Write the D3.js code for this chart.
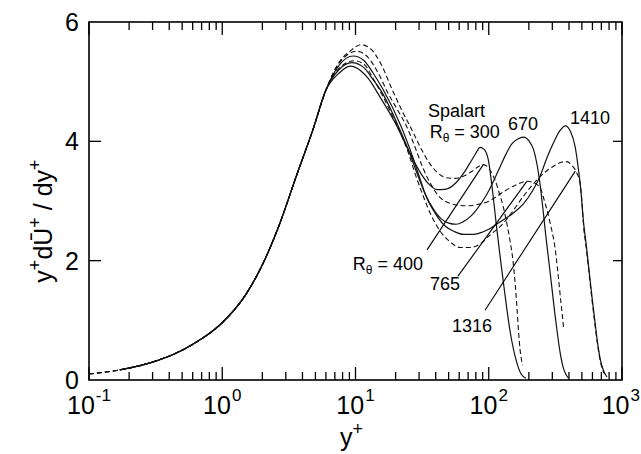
<!DOCTYPE html>
<html><head><meta charset="utf-8">
<script src="https://cdn.jsdelivr.net/npm/d3@7"></script>
<style>
html,body{margin:0;padding:0;background:#fff;}
svg{display:block;font-family:"Liberation Sans",Arial,Helvetica,sans-serif;}
</style></head><body>
<svg id="chart" width="641" height="454"></svg>
<script>
// Axis ticks
const xTickExponents = [-1, 0, 1, 2, 3];
const yTickValues = [0, 2, 4, 6];
const yInnerTicks = [2, 4];

// Near-wall region shared by every profile: [y+, y+ dU+/dy+]
const wallRegion = [[0.3,0.3],[0.5,0.5],[0.7,0.69],[1,0.96],[1.5,1.43],[2,1.93],[2.7,2.62],[3.6,3.42],[4.8,4.2],[6,4.86]];

// Spalart DNS profiles (solid)
const spalart300 = [[7.5,5.14],[9.1,5.26],[11,5.18],[12.5,5.05],[15.3,4.74],[20.5,4.25],[24,3.93],[27,3.7],[31,3.46],[36,3.27],[41,3.19],[48,3.2],[57,3.31],[65,3.47],[72,3.63],[80,3.8],[86,3.9],[92,3.87],[99,3.7],[107,3.15],[114,2.6],[122,2.05],[132,1.45],[145,0.8],[162,0.3],[175,0.1],[190,0.03]];
const spalart670 = [[7.5,5.2],[9.4,5.32],[11.5,5.24],[13.5,5.04],[16,4.8],[21,4.25],[25,3.85],[29,3.46],[33,3.14],[38,2.88],[44,2.7],[50,2.63],[57,2.61],[64,2.65],[72,2.73],[80,2.84],[90,3.0],[101,3.19],[112,3.4],[122,3.58],[135,3.79],[148,3.95],[165,4.04],[182,4.07],[200,4.01],[217,3.86],[230,3.62],[243,3.27],[255,2.87],[268,2.42],[283,1.97],[297,1.57],[313,1.12],[330,0.72],[345,0.43],[360,0.23],[378,0.1],[397,0.03]];
const spalart1410 = [[7.5,5.27],[9.6,5.43],[11.5,5.36],[13.5,5.15],[16,4.88],[22,4.25],[26,3.83],[30,3.42],[34,3.07],[40,2.78],[47,2.58],[55,2.49],[65,2.44],[77,2.44],[90,2.48],[101,2.53],[120,2.64],[153,2.8],[182,2.95],[217,3.2],[243,3.42],[273,3.72],[310,4.0],[340,4.17],[375,4.26],[410,4.17],[446,3.9],[468,3.58],[490,3.2],[514,2.65],[540,2.25],[565,1.85],[595,1.4],[625,1.0],[655,0.63],[685,0.36],[720,0.18],[770,0.05]];

// Computed profiles (dashed)
const profile400 = [[7.5,5.32],[9.2,5.52],[11,5.62],[13,5.55],[15.5,5.3],[19,4.85],[22.5,4.5],[26.4,4.2],[31,3.88],[36,3.63],[41,3.48],[48,3.39],[56,3.38],[65,3.42],[75,3.5],[84,3.58],[91,3.61],[97,3.58],[104,3.49],[112,3.34],[120,3.13],[128,2.92],[136,2.65],[144,2.35],[152,2.0],[158,1.6],[163,1.2],[167,0.84],[172,0.5],[176,0.34],[179,0.25]];
const profile765 = [[7.5,5.3],[10.2,5.51],[12.5,5.4],[15,5.12],[17.5,4.81],[21,4.5],[24.2,4.25],[28,3.9],[32,3.56],[37,3.27],[43,3.06],[50,2.97],[58,2.93],[70,2.92],[81,2.94],[101,3.0],[128,3.15],[160,3.27],[193,3.33],[220,3.3],[243,3.22],[265,2.96],[289,2.63],[315,2.2],[334,1.7],[348,1.3],[358,1.05],[364,0.89]];
const profile1316 = [[7.5,5.22],[9.8,5.35],[11.5,5.3],[13.5,5.06],[16,4.76],[19,4.42],[22,4.12],[25,3.8],[28,3.46],[32,3.1],[37,2.76],[43,2.5],[51,2.32],[61,2.22],[72,2.22],[86,2.28],[101,2.42],[128,2.62],[155,2.86],[182,3.08],[215,3.28],[260,3.47],[310,3.59],[350,3.65],[385,3.66],[420,3.6],[458,3.47],[486,3.28],[500,3.0],[514,2.6],[540,2.2],[565,1.8],[595,1.35],[625,0.95],[655,0.6],[685,0.33],[715,0.17],[740,0.1]];

const solidStart = [[0.17,0.17]];
const dashedStart = [[0.1,0.1],[0.17,0.17]];

const series = [
  {id:"s300",  dashed:false, pts: solidStart.concat(wallRegion, spalart300)},
  {id:"s670",  dashed:false, pts: solidStart.concat(wallRegion, spalart670)},
  {id:"s1410", dashed:false, pts: solidStart.concat(wallRegion, spalart1410)},
  {id:"p400",  dashed:true,  pts: dashedStart.concat(wallRegion, profile400)},
  {id:"p765",  dashed:true,  pts: dashedStart.concat(wallRegion, profile765)},
  {id:"p1316", dashed:true,  pts: dashedStart.concat(wallRegion, profile1316)}
];

const svg = d3.select("#chart");
const W = 641, H = 454;
const m = {left: 89, right: 19, top: 22, bottom: 74};
const x = d3.scaleLog().domain([0.1, 1000]).range([m.left, W - m.right]);
const y = d3.scaleLinear().domain([0, 6]).range([H - m.bottom, m.top]);

svg.append("defs").append("clipPath").attr("id","plot")
  .append("rect").attr("x", m.left).attr("y", m.top)
  .attr("width", x.range()[1] - m.left).attr("height", y(0) - m.top);

// curves
const line = d3.line().x(d => x(d[0])).y(d => y(d[1])).curve(d3.curveMonotoneX);
svg.append("g").attr("clip-path","url(#plot)")
  .selectAll("path").data(series).join("path")
  .attr("d", d => line(d.pts))
  .attr("fill","none").attr("stroke","#111")
  .attr("stroke-width", d => d.dashed ? 1.1 : 1.2)
  .attr("stroke-dasharray", d => d.dashed ? "5,3" : null);

// frame
const x0 = x.range()[0], x1 = x.range()[1], yb = y(0), yt = y(6);
svg.append("rect").attr("x", x0).attr("y", yt).attr("width", x1 - x0).attr("height", yb - yt)
  .attr("fill","none").attr("stroke","#000").attr("stroke-width",1.6);

// log ticks on bottom and top, pointing inward
const ticks = x.ticks().filter(v => v >= 0.1 && v <= 1000);
const tg = svg.append("g").attr("stroke","#000").attr("stroke-width",1.3);
ticks.forEach(v => {
  const major = Math.abs(Math.log10(v) - Math.round(Math.log10(v))) < 1e-9;
  const len = major ? 13 : 8;
  tg.append("line").attr("x1", x(v)).attr("x2", x(v)).attr("y1", yb).attr("y2", yb - len);
  tg.append("line").attr("x1", x(v)).attr("x2", x(v)).attr("y1", yt).attr("y2", yt + len);
});
yInnerTicks.forEach(v => {
  tg.append("line").attr("x1", x0).attr("x2", x0 + 12).attr("y1", y(v)).attr("y2", y(v));
  tg.append("line").attr("x1", x1).attr("x2", x1 - 9).attr("y1", y(v)).attr("y2", y(v));
});

// x tick labels 10^n, whole label centred on its tick and kept inside the page
const labelFont = 25;
xTickExponents.forEach(e => {
  const px = x(Math.pow(10, e));
  const t = svg.append("text").attr("x", px).attr("y", 414)
    .attr("text-anchor","middle").attr("font-size", labelFont);
  t.append("tspan").text("10");
  t.append("tspan").attr("font-size", 17).attr("dy", -13).attr("dx", 1).text(String(e));
  const bb = t.node().getBBox();
  if (bb.x + bb.width > W - 1) t.attr("x", px - (bb.x + bb.width - (W - 1)));
});

// y tick labels
yTickValues.forEach(v => {
  svg.append("text").attr("x", 79).attr("y", y(v) + 9)
    .attr("text-anchor","end").attr("font-size", 25).text(String(v));
});

// axis titles
const xt = svg.append("text").attr("x", x(10) - 4).attr("y", 446).attr("text-anchor","middle").attr("font-size", 25);
xt.append("tspan").text("y");
xt.append("tspan").attr("font-size", 18).attr("dy", -11).text("+");

const yt2 = svg.append("text").attr("transform", "translate(52,221) rotate(-90)")
  .attr("text-anchor","middle").attr("font-size", 25);
yt2.append("tspan").text("y");
yt2.append("tspan").attr("font-size", 18).attr("dy", -11).text("+");
yt2.append("tspan").attr("dy", 11).text("dŪ");
yt2.append("tspan").attr("font-size", 18).attr("dy", -11).text("+");
yt2.append("tspan").attr("dy", 11).text(" / dy");
yt2.append("tspan").attr("font-size", 18).attr("dy", -11).text("+");

// annotations: label text in data coordinates, leaders from label to curve
const annFont = 18;
function rTheta(g, xv, yv, num, anchor) {
  const t = g.append("text").attr("x", x(xv)).attr("y", y(yv)).attr("font-size", annFont)
    .attr("text-anchor", anchor || "start");
  t.append("tspan").text("R");
  t.append("tspan").attr("font-size", 12).attr("dy", 4).text("θ");
  t.append("tspan").attr("dy", -4).text(" = " + num);
}
const ann = svg.append("g").attr("fill","#000");
ann.append("text").attr("x", x(35)).attr("y", y(4.41)).attr("font-size", annFont).text("Spalart");
rTheta(ann, 36, 4.06, "300");
ann.append("text").attr("x", x(139.5)).attr("y", y(4.19)).attr("font-size", annFont).text("670");
ann.append("text").attr("x", x(407)).attr("y", y(4.29)).attr("font-size", annFont).text("1410");
rTheta(ann, 32.1, 1.84, "400", "end");
ann.append("text").attr("x", x(36.2)).attr("y", y(1.51)).attr("font-size", annFont).text("765");
ann.append("text").attr("x", x(53)).attr("y", y(0.81)).attr("font-size", annFont).text("1316");

const leaders = [
  {from:[34.4, 2.18], to:[91, 3.61]},
  {from:[58.7, 1.74], to:[193, 3.33]},
  {from:[93.8, 1.17], to:[446, 3.5]}
];
svg.append("g").selectAll("line").data(leaders).join("line")
  .attr("x1", d => x(d.from[0])).attr("y1", d => y(d.from[1]))
  .attr("x2", d => x(d.to[0])).attr("y2", d => y(d.to[1]))
  .attr("stroke","#000").attr("stroke-width",1.1);
</script>
</body></html>
